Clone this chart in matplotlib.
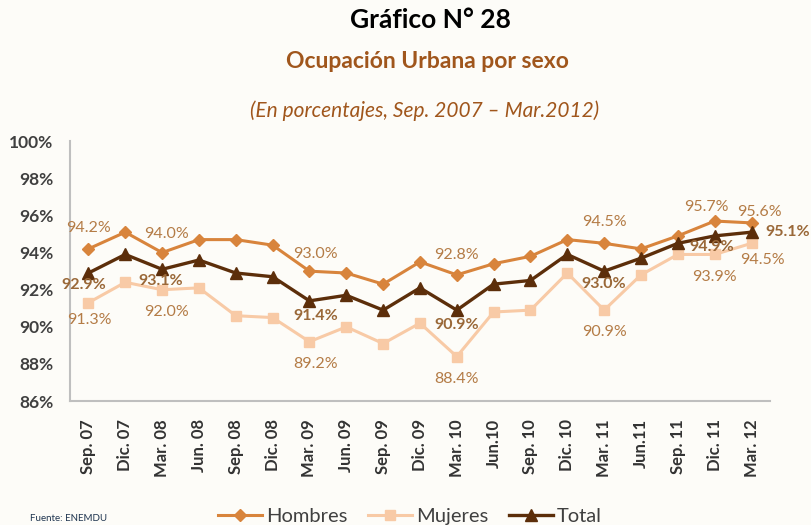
import matplotlib
matplotlib.use('Agg')
import matplotlib.pyplot as plt
from matplotlib.ticker import FuncFormatter

plt.rcParams['font.family'] = ['Lato', 'DejaVu Sans']

# data
periodos = ['Sep. 07', 'Dic. 07', 'Mar. 08', 'Jun. 08', 'Sep. 08', 'Dic. 08',
            'Mar. 09', 'Jun. 09', 'Sep. 09', 'Dic. 09', 'Mar. 10', 'Jun.10',
            'Sep. 10', 'Dic. 10', 'Mar. 11', 'Jun.11', 'Sep. 11', 'Dic. 11', 'Mar. 12']
hombres = [94.2, 95.1, 94.0, 94.7, 94.7, 94.4, 93.0, 92.9, 92.3, 93.5,
           92.8, 93.4, 93.8, 94.7, 94.5, 94.2, 94.9, 95.7, 95.6]
mujeres = [91.3, 92.4, 92.0, 92.1, 90.6, 90.5, 89.2, 90.0, 89.1, 90.2,
           88.4, 90.8, 90.9, 92.9, 90.9, 92.8, 93.9, 93.9, 94.5]
total = [92.9, 93.9, 93.1, 93.6, 92.9, 92.7, 91.4, 91.7, 90.9, 92.1,
         90.9, 92.3, 92.5, 93.9, 93.0, 93.7, 94.5, 94.9, 95.1]
etiquetados = [0, 2, 6, 10, 14, 17, 18]

c_hom = '#d8843c'
c_muj = '#f8caa6'
c_tot = '#5c2e0a'
c_lab = '#b47c46'
c_tot_lab = '#9a6838'
bg = '#fdfcf8'

fig = plt.figure(figsize=(8.12, 5.25), dpi=100, facecolor=bg)
ax = fig.add_axes([0.0862, 0.236, 0.862, 0.495], facecolor=bg)

x = list(range(len(periodos)))
ax.plot(x, hombres, color=c_hom, lw=2.2, marker='D', ms=6, label='Hombres')
ax.plot(x, mujeres, color=c_muj, lw=2.2, marker='s', ms=7, label='Mujeres')
ax.plot(x, total, color=c_tot, lw=2.4, marker='^', ms=8, label='Total')

# label offsets in pixels (dx, dy) per labelled index
off_h = {0: (0, 21), 2: (4, 19), 6: (6, 17), 10: (0, 20), 14: (0, 21), 17: (-8, 14), 18: (8, 11)}
off_m = {0: (1, -17), 2: (4, -22), 6: (6, -22), 10: (0, -22), 14: (0, -22), 17: (0, -23), 18: (11, -17)}
off_t = {0: (-5, -12), 2: (-1, -12), 6: (6, -15), 10: (0, -15), 14: (0, -13), 17: (-3, -11), 18: (36, 0)}

for i in etiquetados:
    ax.annotate(f'{hombres[i]:.1f}%', (i, hombres[i]), xytext=off_h[i],
                textcoords='offset pixels', ha='center', va='center',
                fontsize=11.5, color=c_lab)
    ax.annotate(f'{mujeres[i]:.1f}%', (i, mujeres[i]), xytext=off_m[i],
                textcoords='offset pixels', ha='center', va='center',
                fontsize=11.5, color=c_lab)
    ax.annotate(f'{total[i]:.1f}%', (i, total[i]), xytext=off_t[i],
                textcoords='offset pixels', ha='center', va='center',
                fontsize=11.5, color=c_tot_lab, fontweight='bold')

ax.set_ylim(86, 100)
ax.set_yticks(range(86, 101, 2))
ax.yaxis.set_major_formatter(FuncFormatter(lambda v, p: f'{v:.0f}%'))
ax.set_xlim(-0.5, 18.5)
ax.set_xticks(x)
ax.set_xticklabels(periodos, rotation=90, fontweight='bold', fontsize=12, color='#333333')
for lab in ax.get_yticklabels():
    lab.set_fontweight('bold')
    lab.set_fontsize(12.5)
    lab.set_color('#404040')
ax.tick_params(length=0)
ax.tick_params(axis='x', pad=13)
ax.tick_params(axis='y', pad=12)
for s in ['top', 'right']:
    ax.spines[s].set_visible(False)
for s in ['left', 'bottom']:
    ax.spines[s].set_color('#bfbfbf')
    ax.spines[s].set_linewidth(1.5)

fig.text(0.53, 0.962, 'Gráfico N° 28', ha='center', va='center',
         fontsize=19, fontweight='bold', color='black')
fig.text(0.526, 0.882, 'Ocupación Urbana por sexo', ha='center', va='center',
         fontsize=16.5, fontweight='bold', color='#a0561c')
fig.text(0.523, 0.79, '(En porcentajes, Sep. 2007 – Mar.2012)', ha='center', va='center',
         fontsize=15, style='italic', color='#a0561c')
fig.text(0.037, 0.013, 'Fuente: ENEMDU', ha='left', va='center',
         fontsize=7, color='#1f3550')

fig.legend(loc='center', bbox_to_anchor=(0.505, 0.017), ncol=3, frameon=False,
           fontsize=14.5, handlelength=2.2, columnspacing=1.0, handletextpad=0.2,
           labelcolor='#404040')

fig.savefig('out.png', dpi=100, facecolor=bg)
